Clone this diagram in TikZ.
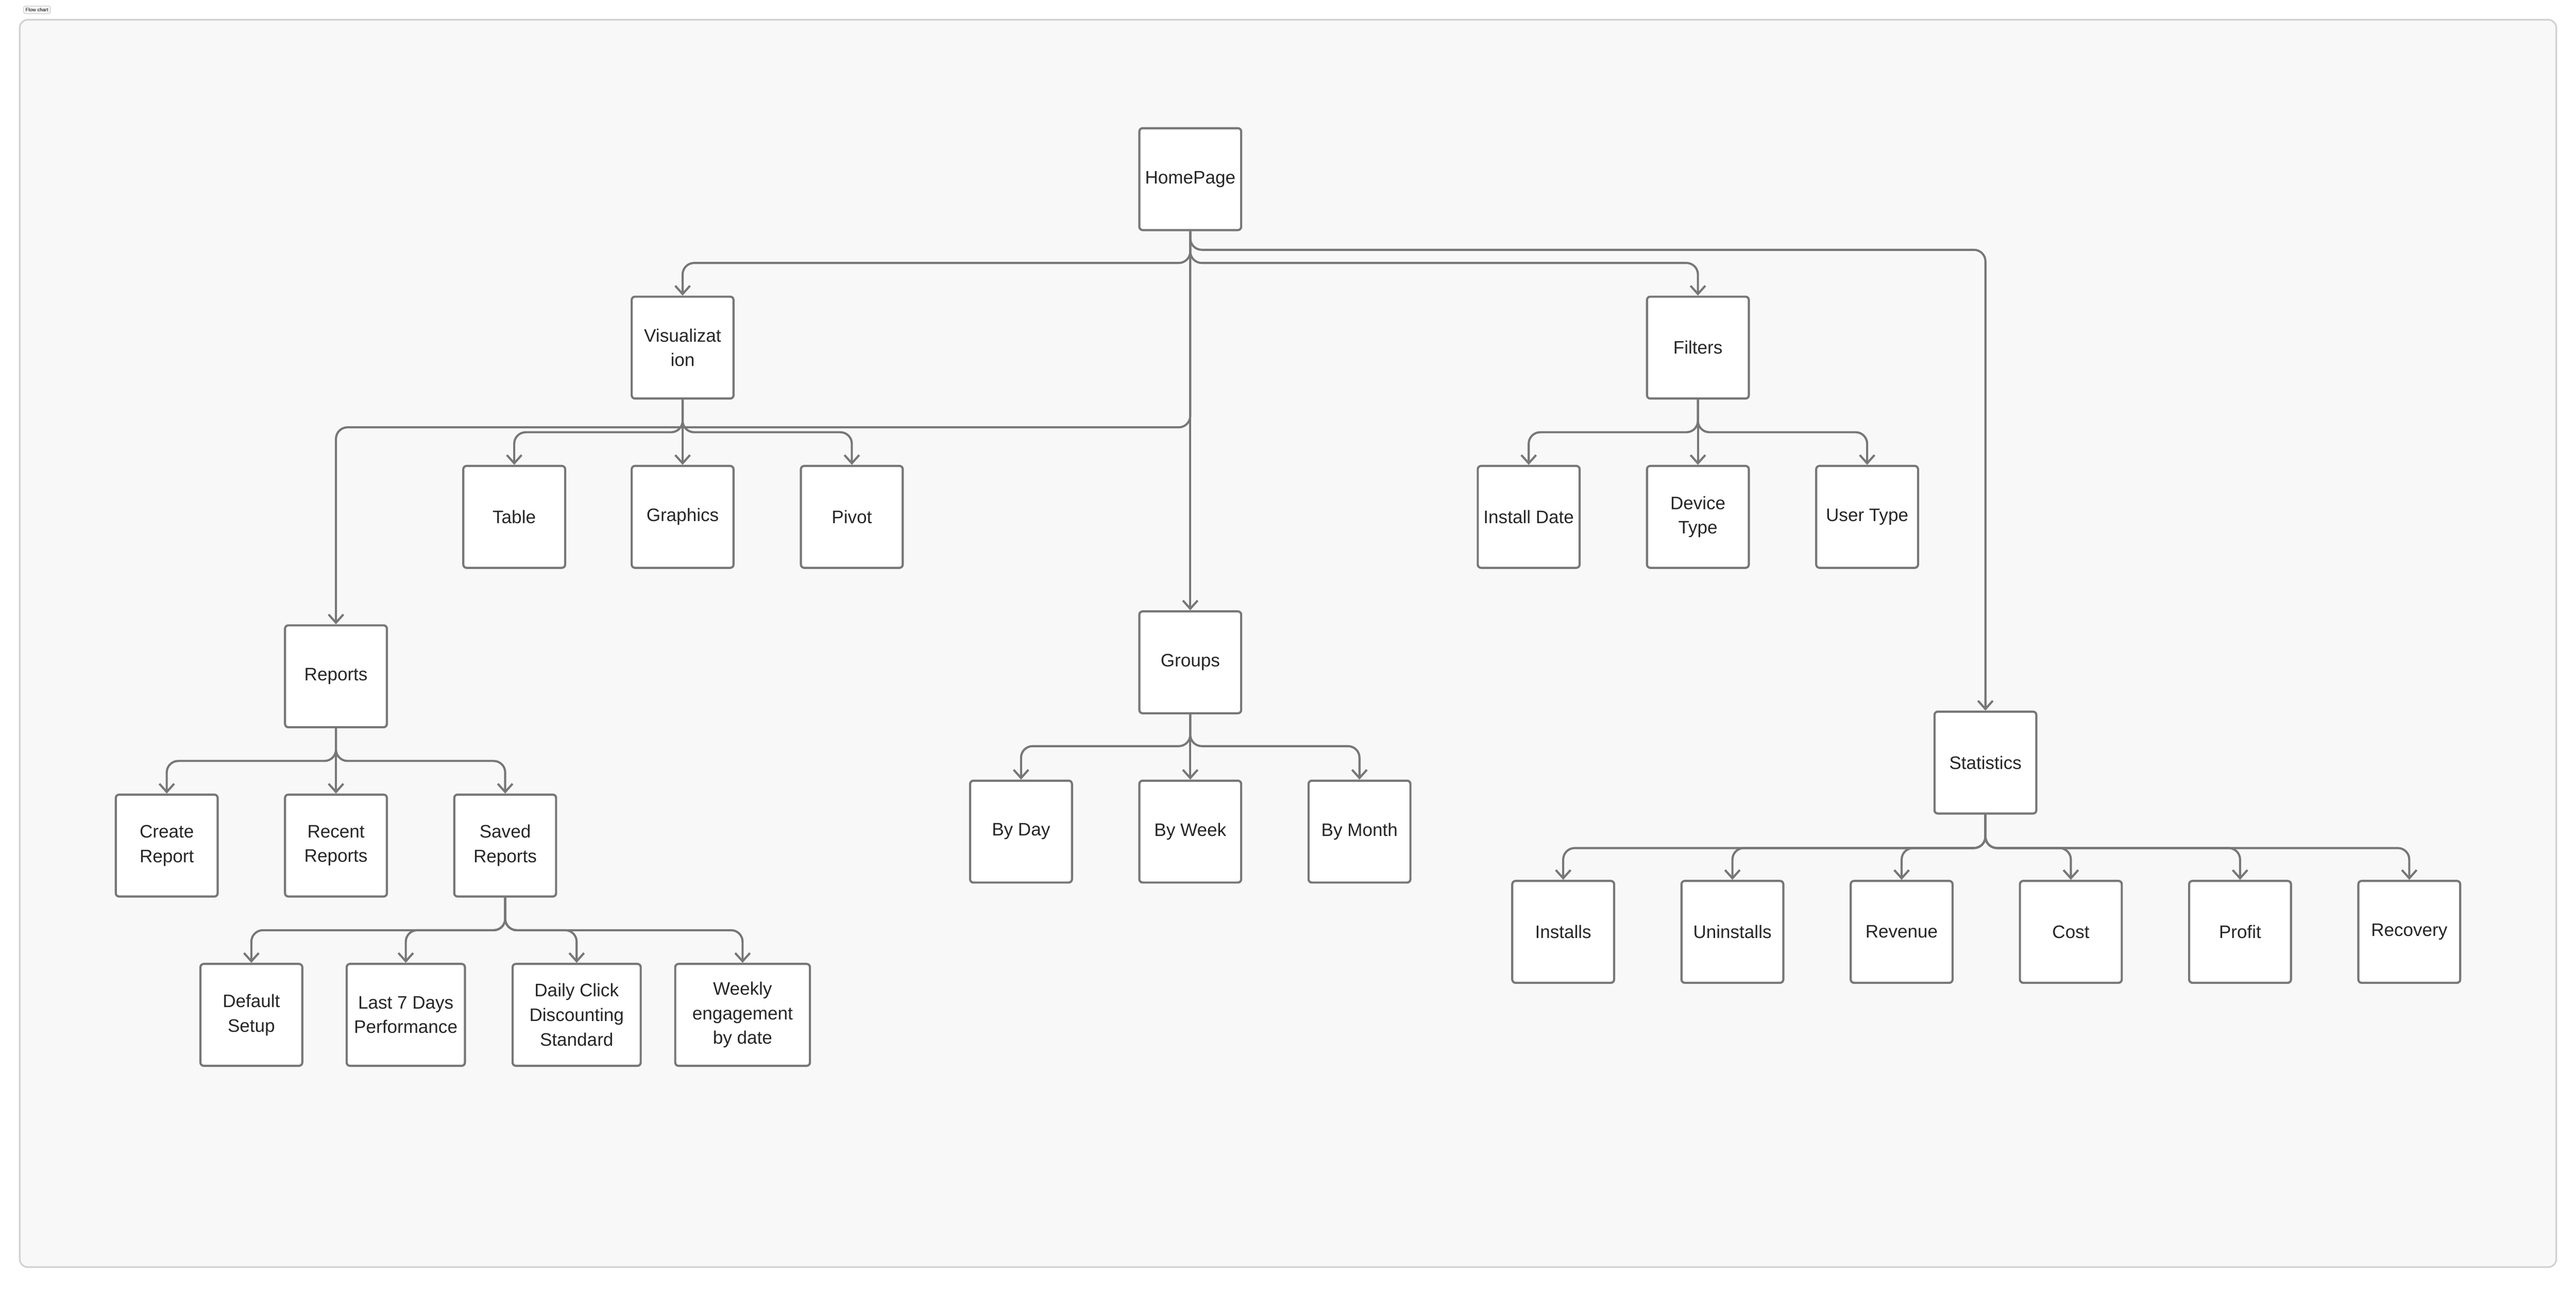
\documentclass[tikz,border=0pt]{standalone}
\usepackage{fontspec}
\setmainfont{Liberation Sans}
\usetikzlibrary{arrows.meta}
\definecolor{edgegray}{HTML}{777777}
\definecolor{paper}{HTML}{F8F8F8}
\tikzset{
  box/.style={draw=edgegray, line width=1.3pt, fill=white, rounded corners=2pt,
    minimum width=62pt, minimum height=62pt, align=center, font=\fontsize{11}{15}\selectfont, text=black!85},
  link/.style={draw=edgegray, line width=1.3pt, rounded corners=7pt, -{Straight Barb[length=5pt,width=9pt]}}
}
\newcommand{\branch}[3]{\draw[link] (#1.south) -- (#1.south |- 0,#3) -| (#2.north);}

\begin{document}
\begin{tikzpicture}[x=1pt, y=-1pt]
% Frame
    \useasboundingbox (0,0) rectangle (1568,784);
    \fill[white] (0,0) rectangle (1568,784);
    \draw[black!18, line width=1pt, fill=paper, rounded corners=5pt] (12,12) rectangle (1556,771);
    \node[draw=black!20, fill=paper, rounded corners=1pt, font=\fontsize{3}{4}\selectfont, inner sep=1.2pt] (title) at (22.5,6) {Flow chart};
% Boxes
    \node[box] (home) at (724.5,109) {HomePage};
    \node[box] (vis) at (415.5,211.5) {Visualizat\\ion};
    \node[box] (filt) at (1033.5,211.5) {Filters};
    \node[box] (table) at (313,314.5) {Table};
    \node[box] (graph) at (415.5,314.5) {Graphics};
    \node[box] (pivot) at (518.5,314.5) {Pivot};
    \node[box] (inst) at (930.5,314.5) {Install Date};
    \node[box] (dev) at (1033.5,314.5) {Device\\Type};
    \node[box] (user) at (1136.5,314.5) {User Type};
    \node[box] (rep) at (204.5,411.5) {Reports};
    \node[box] (grp) at (724.5,403) {Groups};
    \node[box] (stat) at (1208.5,464) {Statistics};
    \node[box] (create) at (101.5,514.5) {Create\\Report};
    \node[box] (recent) at (204.5,514.5) {Recent\\Reports};
    \node[box] (saved) at (307.5,514.5) {Saved\\Reports};
    \node[box] (day) at (621.5,506) {By Day};
    \node[box] (week) at (724.5,506) {By Week};
    \node[box] (month) at (827.5,506) {By Month};
    \node[box] (installs) at (951.5,567) {Installs};
    \node[box] (uninst) at (1054.5,567) {Uninstalls};
    \node[box] (rev) at (1157.5,567) {Revenue};
    \node[box] (cost) at (1260.5,567) {Cost};
    \node[box] (profit) at (1363.5,567) {Profit};
    \node[box] (recov) at (1466.5,567) {Recovery};
    \node[box] (default) at (153,617.5) {Default\\Setup};
    \node[box, minimum width=72pt] (last) at (247,617.5) {Last 7 Days\\Performance};
    \node[box, minimum width=78pt] (daily) at (351,617.5) {Daily Click\\Discounting\\Standard};
    \node[box, minimum width=82pt] (weekly) at (452,617.5) {Weekly\\engagement\\by date};
% Connectors
    \branch{home}{vis}{160}
    \branch{home}{filt}{160}
    \branch{home}{stat}{152}
    \branch{home}{rep}{260}
    \draw[link] (home) -- (grp);
    \foreach \c in {table,graph,pivot} {\branch{vis}{\c}{263}}
    \foreach \c in {inst,dev,user} {\branch{filt}{\c}{263}}
    \foreach \c in {create,recent,saved} {\branch{rep}{\c}{463}}
    \foreach \c in {day,week,month} {\branch{grp}{\c}{454}}
    \foreach \c in {installs,uninst,rev,cost,profit,recov} {\branch{stat}{\c}{516}}
    \foreach \c in {default,last,daily,weekly} {\branch{saved}{\c}{566}}
\end{tikzpicture}
\end{document}
